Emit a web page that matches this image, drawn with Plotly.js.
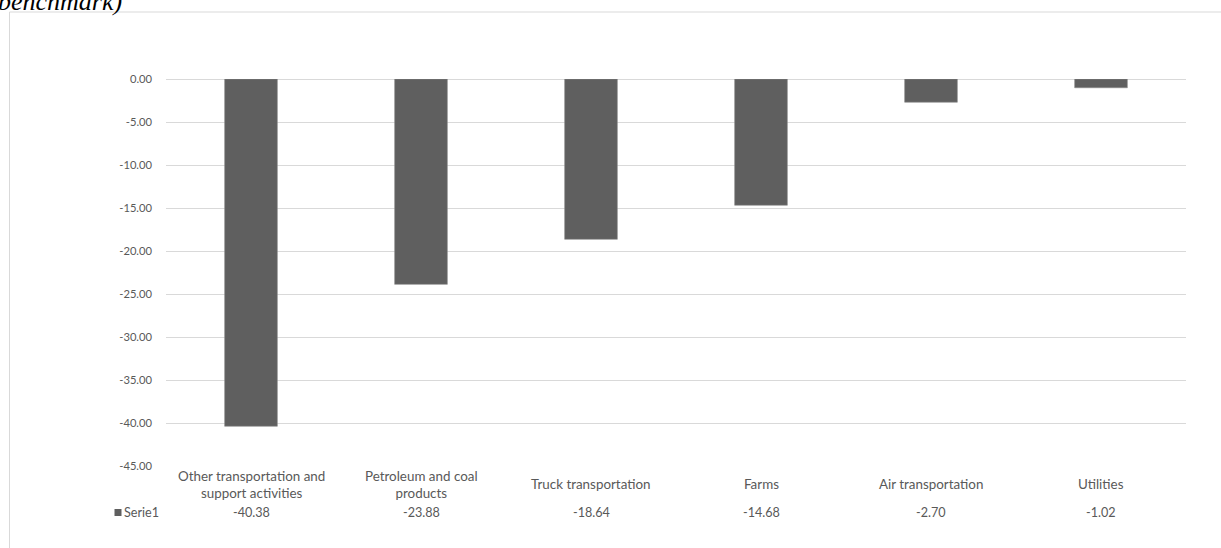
<!DOCTYPE html>
<html>
<head>
<meta charset="utf-8">
<script src="https://cdn.plot.ly/plotly-3.0.1.min.js"></script>
<style>
  html, body { margin: 0; padding: 0; background: #ffffff; }
  #chart { width: 1221px; height: 548px; }
</style>
</head>
<body>
<div id="chart"></div>
<script>
// Industries and their change values
const categories = [
  "Other transportation and support activities",
  "Petroleum and coal products",
  "Truck transportation",
  "Farms",
  "Air transportation",
  "Utilities"
];
const categoryLabels = [
  "Other transportation and<br>support activities",
  "Petroleum and coal<br>products",
  "Truck transportation",
  "Farms",
  "Air transportation",
  "Utilities"
];
const serie1 = [-40.38, -23.88, -18.64, -14.68, -2.70, -1.02];
const seriesName = "Serie1";
const yTicks = [0, -5, -10, -15, -20, -25, -30, -35, -40, -45];
const titleText = "benchmark)";

const W = 1221, H = 548;
const M = { l: 166, r: 35, t: 79, b: 82 };
const plotW = W - M.l - M.r;
const plotH = H - M.t - M.b;
// pixel -> paper helpers
const px = x => (x - M.l) / plotW;
const py = y => (H - M.b - y) / plotH;

const textColor = "#595959";
const family = "Lato, 'Liberation Sans', sans-serif";
const catFont = { family: family, size: 13.4, color: textColor };
const valFont = { family: family, size: 12.6, color: textColor };

const annotations = [];
// category row below the axis
categories.forEach((c, i) => {
  annotations.push({
    x: c, xref: "x", y: py(484), yref: "paper",
    text: categoryLabels[i], showarrow: false,
    xanchor: "center", yanchor: "middle", align: "center",
    font: catFont
  });
  // data table value row
  annotations.push({
    x: c, xref: "x", y: py(512), yref: "paper",
    text: serie1[i].toFixed(2), showarrow: false,
    xanchor: "center", yanchor: "middle",
    font: valFont
  });
});
// series key for the data table
annotations.push({
  x: px(122), xref: "paper", y: py(512), yref: "paper",
  text: seriesName, showarrow: false,
  xanchor: "left", yanchor: "middle",
  font: valFont
});
// clipped title fragment
annotations.push({
  x: px(-4), xref: "paper", y: py(1), yref: "paper",
  text: titleText, showarrow: false,
  xanchor: "left", yanchor: "middle",
  font: { family: "'Liberation Serif', 'Times New Roman', serif", size: 26, color: "#000000", style: "italic" }
});

const shapes = [
  // outer chart frame
  {
    type: "rect", xref: "paper", yref: "paper",
    x0: px(9.5), x1: px(1240), y0: py(600), y1: py(12),
    line: { color: "#d9d9d9", width: 1 }, fillcolor: "rgba(0,0,0,0)", layer: "below"
  },
  // legend key square
  {
    type: "rect", xref: "paper", yref: "paper",
    x0: px(114.5), x1: px(121.5), y0: py(516), y1: py(509),
    line: { width: 0 }, fillcolor: "#5f5f5f"
  }
];

const trace = {
  type: "bar",
  x: categories,
  y: serie1,
  name: seriesName,
  marker: { color: "#5f5f5f", line: { color: "#8c8c8c", width: 0.6 } },
  hoverinfo: "x+y"
};

const layout = {
  width: W, height: H,
  margin: M,
  paper_bgcolor: "#ffffff",
  plot_bgcolor: "#ffffff",
  showlegend: false,
  bargap: 0.69,
  font: valFont,
  xaxis: {
    type: "category",
    showticklabels: false,
    showgrid: false,
    zeroline: false,
    showline: false,
    ticks: "",
    fixedrange: true
  },
  yaxis: {
    range: [-45, 0],
    tickvals: yTicks,
    ticktext: yTicks.map(v => v.toFixed(2)),
    showgrid: true,
    gridcolor: "#d9d9d9",
    gridwidth: 1,
    zeroline: true,
    zerolinecolor: "#d9d9d9",
    zerolinewidth: 1,
    showline: false,
    ticks: "",
    ticklabelstandoff: 13,
    tickfont: { family: family, size: 11.2, color: textColor },
    fixedrange: true
  },
  annotations: annotations,
  shapes: shapes
};

Plotly.newPlot("chart", [trace], layout, { displayModeBar: false, staticPlot: true });
</script>
</body>
</html>
